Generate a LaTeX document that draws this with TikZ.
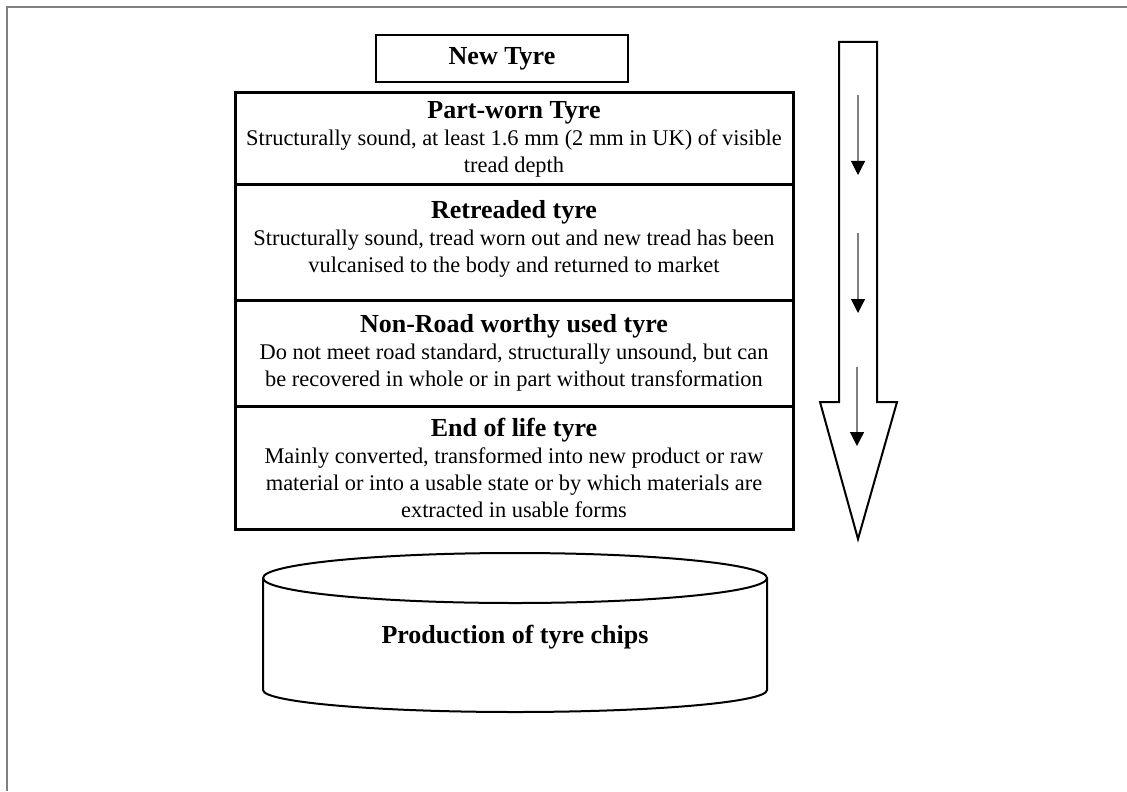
\documentclass[tikz,border=0pt]{standalone}
\usepackage{fontspec}
\setmainfont{Liberation Serif}
\usetikzlibrary{arrows.meta,positioning}
\tikzset{
  stage/.style={draw,line width=1.5pt,outer sep=0pt,minimum width=279pt,align=center,font=\fontsize{11.2}{13.5}\selectfont},
  flow/.style={draw=gray,line width=.6pt,-{Triangle[length=7pt,width=7pt,color=black]}}
}
\newcommand{\stagetitle}[1]{{\fontsize{13}{15}\selectfont\bfseries #1}}

\begin{document}
\begin{tikzpicture}[x=.5pt,y=-.5pt]
\useasboundingbox (0,0) rectangle (1127,791);
\draw[gray,line width=1pt] (7,791) -- (7,7) -- (1127,7);
% stages of the tyre
\node[draw,line width=1.2pt,minimum width=126pt,minimum height=23.5pt,font=\fontsize{13}{15}\selectfont\bfseries] (newtyre) at (502,58.5) {New Tyre};
\node[stage,minimum height=46pt,anchor=north] (partworn) at (514,93) {\stagetitle{Part-worn Tyre}\\Structurally sound, at least 1.6 mm (2 mm in UK) of visible\\tread depth};
\node[stage,minimum height=57.5pt,below=0pt of partworn] (retread) {\stagetitle{Retreaded tyre}\\Structurally sound, tread worn out and new tread has been\\vulcanised to the body and returned to market\\[-7pt]\mbox{}};
\node[stage,minimum height=53pt,below=0pt of retread] (nonroad) {\stagetitle{Non-Road worthy used tyre}\\Do not meet road standard, structurally unsound, but can\\be recovered in whole or in part without transformation};
\node[stage,minimum height=61.5pt,below=0pt of nonroad] (endlife) {\stagetitle{End of life tyre}\\Mainly converted, transformed into new product or raw\\material or into a usable state or by which materials are\\extracted in usable forms};
% big arrow on the right
\draw[line width=1pt] (839,42) -- (877,42) -- (877,402) -- (897,402) -- (858,539) -- (820,402) -- (839,402) -- cycle;
\coordinate (f1) at (858,95); \coordinate (t1) at (858,175);
\coordinate (f2) at (858,233); \coordinate (t2) at (858,313);
\coordinate (f3) at (857,367); \coordinate (t3) at (857,446);
\draw[flow] (f1) -- (t1);
\draw[flow] (f2) -- (t2);
\draw[flow] (f3) -- (t3);
% tyre chips
\draw[line width=1pt] (263,578) -- (263,690) arc[start angle=180,end angle=0,x radius=252,y radius=22] -- (767,578);
\draw[line width=1pt] (515,578) ellipse[x radius=252,y radius=25];
\node[font=\fontsize{13}{15}\selectfont\bfseries] (chips) at (515,637) {Production of tyre chips};
\end{tikzpicture}
\end{document}
